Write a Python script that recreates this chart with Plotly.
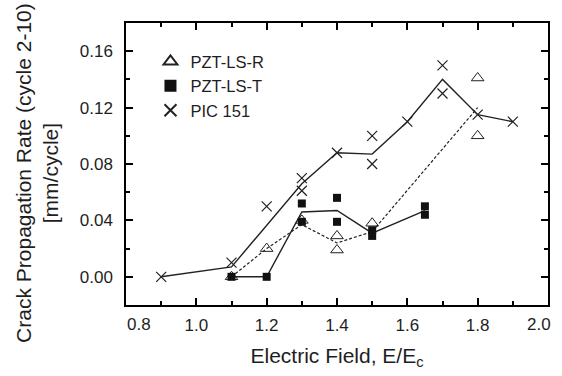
import plotly.graph_objects as go

# PZT-LS-R (open triangles) measured points
r_x = [1.1, 1.2, 1.3, 1.4, 1.4, 1.5, 1.8, 1.8]
r_y = [0.000, 0.020, 0.040, 0.029, 0.019, 0.038, 0.141, 0.100]
# PZT-LS-R mean line (dashed)
r_line_x = [1.1, 1.2, 1.3, 1.4, 1.5, 1.8]
r_line_y = [0.000, 0.020, 0.037, 0.024, 0.032, 0.120]

# PZT-LS-T (filled squares) measured points
t_x = [1.1, 1.2, 1.3, 1.3, 1.4, 1.4, 1.5, 1.5, 1.65, 1.65]
t_y = [0.000, 0.000, 0.052, 0.039, 0.056, 0.039, 0.033, 0.029, 0.050, 0.044]
# PZT-LS-T mean line (solid)
t_line_x = [1.1, 1.2, 1.3, 1.4, 1.5, 1.65]
t_line_y = [0.000, 0.000, 0.046, 0.047, 0.031, 0.047]

# PIC 151 (crosses) measured points
p_x = [0.9, 1.1, 1.2, 1.3, 1.3, 1.4, 1.5, 1.5, 1.6, 1.7, 1.7, 1.8, 1.9]
p_y = [0.000, 0.010, 0.050, 0.070, 0.061, 0.088, 0.100, 0.080, 0.110, 0.150, 0.130, 0.115, 0.110]
# PIC 151 mean line (solid)
p_line_x = [0.9, 1.1, 1.3, 1.4, 1.5, 1.6, 1.7, 1.8, 1.9]
p_line_y = [0.000, 0.007, 0.066, 0.088, 0.087, 0.110, 0.140, 0.115, 0.110]

x_ticks = [0.8, 1.0, 1.2, 1.4, 1.6, 1.8, 2.0]
x_tick_labels = ["0.8", "1.0", "1.2", "1.4", "1.6", "1.8", "2.0"]
y_ticks = [0.00, 0.04, 0.08, 0.12, 0.16]
y_tick_labels = ["0.00", "0.04", "0.08", "0.12", "0.16"]

y_title = "Crack Propagation Rate (cycle 2-10)<br>[mm/cycle]"
x_title = "Electric Field, E/E<sub>c</sub>"

FONT = "Liberation Sans, Arial, sans-serif"
TXT = "#1e1e1e"

fig = go.Figure()

# lines
fig.add_trace(go.Scatter(x=r_line_x, y=r_line_y, mode="lines",
                         line=dict(color="#222", width=1.2, dash="3px,2px"),
                         showlegend=False, hoverinfo="skip"))
fig.add_trace(go.Scatter(x=t_line_x, y=t_line_y, mode="lines",
                         line=dict(color="#222", width=1.4),
                         showlegend=False, hoverinfo="skip"))
fig.add_trace(go.Scatter(x=p_line_x, y=p_line_y, mode="lines",
                         line=dict(color="#222", width=1.4),
                         showlegend=False, hoverinfo="skip"))

# markers
fig.add_trace(go.Scatter(x=r_x, y=r_y, mode="markers", name="PZT-LS-R",
                         marker=dict(symbol="triangle-up-open", size=11,
                                     color="#222", line=dict(width=1))))
fig.add_trace(go.Scatter(x=t_x, y=t_y, mode="markers", name="PZT-LS-T",
                         marker=dict(symbol="square", size=8, color="#111")))
fig.add_trace(go.Scatter(x=p_x, y=p_y, mode="markers", name="PIC 151",
                         marker=dict(symbol="x-thin-open", size=10,
                                     color="#222", line=dict(width=1.2, color="#222"))))

axis_common = dict(
    showline=True, linecolor="black", linewidth=1.5, mirror="allticks",
    ticks="inside", ticklen=7, tickwidth=1.5, tickcolor="black",
    showgrid=False, zeroline=False,
    tickfont=dict(family=FONT, size=17, color=TXT),
)

# the two end x tick labels sit on the frame edges; they are drawn as
# annotations nudged inward, as in the original
fig.update_layout(
    width=562, height=376,
    margin=dict(l=126, r=14, t=23, b=68),
    plot_bgcolor="white", paper_bgcolor="white",
    font=dict(family=FONT, size=16, color=TXT),
    xaxis=dict(range=[0.8, 2.0], tickvals=x_ticks[1:-1], ticktext=x_tick_labels[1:-1],
               ticklabelstandoff=4,
               minor=dict(dtick=0.1, tick0=0.8, ticks="inside", ticklen=4,
                          tickwidth=1.5, tickcolor="black"),
               title=dict(text=x_title,
                          font=dict(family=FONT, size=21, color=TXT), standoff=14),
               **axis_common),
    yaxis=dict(range=[-0.02, 0.18], tickvals=y_ticks, ticktext=y_tick_labels,
               ticklabelstandoff=8,
               minor=dict(dtick=0.02, tick0=0, ticks="inside", ticklen=4,
                          tickwidth=1.5, tickcolor="black"),
               **axis_common),
    legend=dict(x=0.058, y=0.925, xanchor="left", yanchor="top",
                bgcolor="rgba(0,0,0,0)", borderwidth=0,
                font=dict(family=FONT, size=16.5, color=TXT),
                itemsizing="constant", tracegroupgap=0),
    showlegend=True,
    annotations=[
        dict(text=y_title, textangle=-90, xref="paper", yref="paper",
             x=(37.5 - 126) / 422, y=(308 - 175) / 285,
             xanchor="center", yanchor="middle", showarrow=False,
             font=dict(family=FONT, size=21, color=TXT)),
        dict(text=x_tick_labels[0], xref="x", yref="paper",
             x=x_ticks[0], y=0, xanchor="center", yanchor="top",
             xshift=13, yshift=-8, showarrow=False,
             font=dict(family=FONT, size=17, color=TXT)),
        dict(text=x_tick_labels[-1], xref="x", yref="paper",
             x=x_ticks[-1], y=0, xanchor="center", yanchor="top",
             xshift=-9, yshift=-8, showarrow=False,
             font=dict(family=FONT, size=17, color=TXT)),
    ],
)

fig.write_html("out.html",
               config={"displayModeBar": False},
               post_script="document.body.style.margin='0';")
